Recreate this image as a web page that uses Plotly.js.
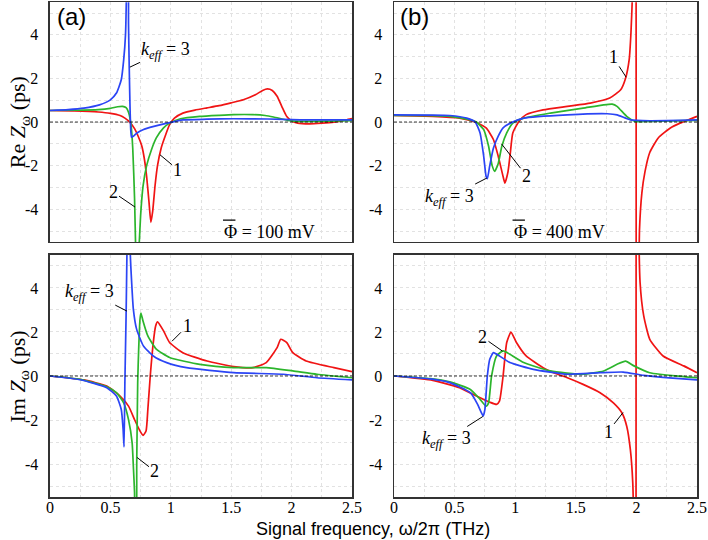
<!DOCTYPE html>
<html>
<head>
<meta charset="utf-8">
<script src="https://cdn.plot.ly/plotly-3.0.1.min.js"></script>
<style>
  html, body { margin: 0; padding: 0; background: #fff; }
  #chart { width: 708px; height: 540px; }
</style>
</head>
<body>
<div id="chart"></div>
<script>
// colours of the three k_eff curves
const RED = '#f01414'
const GREEN = '#2cb52c'
const BLUE = '#2b45f5'

// tick labels
const xTickVals = [0, 0.25, 0.5, 0.75, 1, 1.25, 1.5, 1.75, 2, 2.25, 2.5]
const xTickText = ['0', '', '0.5', '', '1', '', '1.5', '', '2', '', '2.5']
const yTickVals = [-5, -4, -3, -2, -1, 0, 1, 2, 3, 4, 5]
const yTickText = ['', '-4', '', '-2', '', '0', '', '2', '', '4', '']

// (a) Re Z, 100 mV
const reA1x = [0, 0.2, 0.4, 0.5, 0.58, 0.62, 0.66, 0.70, 0.73, 0.76, 0.78, 0.80, 0.82, 0.835, 0.85, 0.87, 0.89, 0.92, 0.95, 0.99, 1.03, 1.1, 1.2, 1.3, 1.4, 1.5, 1.6, 1.7, 1.76, 1.8, 1.84, 1.88, 1.92, 1.96, 2.0, 2.05, 2.15, 2.25, 2.35, 2.45, 2.5]
const reA1y = [0.53, 0.51, 0.46, 0.40, 0.30, 0.18, 0.0, -0.30, -0.65, -1.10, -1.65, -2.5, -3.7, -4.6, -4.1, -2.9, -2.0, -1.2, -0.7, -0.12, 0.18, 0.41, 0.55, 0.65, 0.75, 0.88, 1.02, 1.25, 1.45, 1.52, 1.45, 1.18, 0.7, 0.25, 0.05, -0.05, -0.08, -0.05, 0.0, 0.1, 0.16]
const reA2x = [0, 0.2, 0.4, 0.5, 0.56, 0.6, 0.63, 0.65, 0.67, 0.685, 0.70, 0.71, 0.72, 0.735, 0.75, 0.77, 0.80, 0.84, 0.88, 0.94, 0.99, 1.08, 1.24, 1.4, 1.52, 1.68, 1.78, 1.85, 1.92, 1.97, 2.07, 2.3, 2.5]
const reA2y = [0.53, 0.54, 0.57, 0.63, 0.70, 0.72, 0.66, 0.45, -0.1, -1.2, -3.5, -6.0, -7.5, -6.0, -4.3, -2.95, -2.0, -1.27, -0.73, -0.27, -0.05, 0.15, 0.26, 0.31, 0.34, 0.34, 0.3, 0.23, 0.14, 0.08, 0.03, 0.04, 0.06]
const reA3x = [0, 0.15, 0.28, 0.41, 0.5, 0.55, 0.59, 0.61, 0.625, 0.632, 0.637, 0.644, 0.65, 0.656, 0.662, 0.668, 0.675, 0.69, 0.72, 0.77, 0.86, 0.97, 1.1, 1.3, 1.52, 1.8, 2.07, 2.3, 2.5]
const reA3y = [0.53, 0.57, 0.64, 0.79, 1.02, 1.33, 1.94, 2.85, 4.0, 5.6, 8, 8, 4.5, 2.5, 0.8, -0.3, -0.7, -0.65, -0.5, -0.35, -0.2, -0.05, 0.1, 0.13, 0.15, 0.14, 0.1, 0.1, 0.1]

// (b) Re Z, 400 mV
const reB1x = [0, 0.32, 0.54, 0.67, 0.76, 0.82, 0.86, 0.90, 0.915, 0.94, 0.96, 0.98, 1.03, 1.09, 1.23, 1.43, 1.62, 1.78, 1.87, 1.91, 1.94, 1.955, 1.968, 1.98, 1.995, 2.0, 2.012, 2.025, 2.045, 2.07, 2.11, 2.18, 2.28, 2.36, 2.43, 2.5]
const reB1y = [0.3, 0.26, 0.18, 0, -0.27, -0.8, -1.57, -2.5, -2.8, -2.3, -1.4, -0.5, 0.03, 0.34, 0.56, 0.72, 0.87, 1.1, 1.48, 2.0, 2.85, 4.1, 6, 12, 30, -30, -10, -5.0, -3.25, -2.3, -1.4, -0.73, -0.27, -0.05, 0.1, 0.26]
const reB2x = [0, 0.3, 0.46, 0.63, 0.68, 0.74, 0.78, 0.81, 0.83, 0.86, 0.89, 0.93, 0.98, 1.07, 1.29, 1.56, 1.73, 1.80, 1.84, 1.92, 1.99, 2.11, 2.3, 2.5]
const reB2y = [0.3, 0.29, 0.26, 0.1, 0, -0.35, -1.1, -2.0, -2.26, -1.9, -1.1, -0.5, -0.05, 0.18, 0.41, 0.64, 0.79, 0.82, 0.72, 0.26, 0.03, 0.03, 0.05, 0.08]
const reB3x = [0, 0.3, 0.46, 0.6, 0.67, 0.71, 0.74, 0.76, 0.77, 0.79, 0.82, 0.86, 0.90, 0.96, 1.07, 1.43, 1.76, 1.84, 1.95, 2.11, 2.5]
const reB3y = [0.33, 0.32, 0.3, 0.18, 0, -0.5, -1.57, -2.5, -2.6, -2.0, -1.2, -0.65, -0.27, -0.05, 0.18, 0.33, 0.38, 0.33, 0.1, 0.06, 0.1]

// (a) Im Z, 100 mV
const imA1x = [0, 0.28, 0.47, 0.58, 0.65, 0.70, 0.745, 0.77, 0.795, 0.81, 0.83, 0.855, 0.875, 0.89, 0.94, 0.99, 1.1, 1.3, 1.52, 1.68, 1.79, 1.88, 1.91, 1.96, 2.01, 2.12, 2.35, 2.5]
const imA1y = [0, -0.18, -0.46, -0.91, -1.37, -1.98, -2.5, -2.7, -2.5, -1.52, 0, 1.52, 2.28, 2.46, 2.05, 1.52, 1.06, 0.68, 0.43, 0.38, 0.61, 1.29, 1.67, 1.52, 1.06, 0.68, 0.38, 0.2]
const imA2x = [0, 0.25, 0.47, 0.55, 0.61, 0.65, 0.68, 0.69, 0.70, 0.705, 0.712, 0.718, 0.726, 0.734, 0.745, 0.753, 0.77, 0.81, 0.88, 0.99, 1.24, 1.52, 1.79, 2.01, 2.21, 2.5]
const imA2y = [0, -0.15, -0.49, -0.76, -1.22, -1.98, -3.04, -4.1, -5.3, -7, -7, -4, -0.3, 1.2, 2.58, 2.86, 2.5, 1.82, 1.22, 0.84, 0.53, 0.38, 0.38, 0.23, 0.08, -0.08]
const imA3x = [0, 0.25, 0.47, 0.55, 0.59, 0.605, 0.613, 0.62, 0.63, 0.637, 0.645, 0.655, 0.665, 0.676, 0.69, 0.717, 0.773, 0.855, 0.966, 1.13, 1.52, 1.93, 2.21, 2.5]
const imA3y = [0, -0.17, -0.53, -0.91, -1.52, -2.4, -3.22, -0.3, 2.74, 5.6, 9, 9, 5.5, 4.26, 3.04, 2.13, 1.37, 0.91, 0.61, 0.38, 0.15, 0.08, -0.08, -0.18]

// (b) Im Z, 400 mV
const imB1x = [0, 0.32, 0.54, 0.68, 0.79, 0.846, 0.87, 0.90, 0.93, 0.965, 1.01, 1.09, 1.23, 1.34, 1.43, 1.56, 1.70, 1.81, 1.88, 1.92, 1.95, 1.97, 1.98, 1.99, 1.995, 2.0, 2.012, 2.03, 2.06, 2.11, 2.22, 2.39, 2.5]
const imB1y = [0, -0.2, -0.53, -0.91, -1.19, -1.29, -1.14, 0, 1.52, 2.0, 1.52, 0.91, 0.38, 0.1, -0.08, -0.38, -0.76, -1.22, -1.67, -2.28, -3.35, -4.87, -8, -20, -30, 30, 10, 4.26, 2.74, 1.67, 0.91, 0.46, 0.15]
const imB2x = [0, 0.3, 0.46, 0.63, 0.71, 0.76, 0.78, 0.805, 0.846, 0.90, 0.956, 1.07, 1.29, 1.56, 1.73, 1.84, 1.91, 1.98, 2.11, 2.39, 2.5]
const imB2y = [0, -0.12, -0.27, -0.61, -1.06, -1.37, -1.22, 0, 0.91, 1.14, 0.99, 0.61, 0.23, 0.08, 0.23, 0.53, 0.68, 0.46, 0.15, -0.03, -0.08]
const imB3x = [0, 0.3, 0.46, 0.63, 0.69, 0.736, 0.75, 0.77, 0.79, 0.82, 0.87, 0.956, 1.15, 1.43, 1.7, 1.89, 2.06, 2.3, 2.5]
const imB3y = [0, -0.13, -0.3, -0.76, -1.29, -1.82, -1.52, 0, 0.76, 1.06, 0.91, 0.61, 0.3, 0.08, 0.15, 0.18, 0.03, -0.1, -0.18]

function curve(x, y, color, n) {
  return {
    x: x, y: y,
    xaxis: 'x' + (n > 1 ? n : ''), yaxis: 'y' + (n > 1 ? n : ''),
    mode: 'lines', type: 'scatter', hoverinfo: 'none',
    line: { color: color, width: 1.7, shape: 'spline', smoothing: 0.5 }
  }
}

const data = [
  curve(reA1x, reA1y, RED, 1), curve(reA2x, reA2y, GREEN, 1), curve(reA3x, reA3y, BLUE, 1),
  curve(reB1x, reB1y, RED, 2), curve(reB2x, reB2y, GREEN, 2), curve(reB3x, reB3y, BLUE, 2),
  curve(imA1x, imA1y, RED, 3), curve(imA2x, imA2y, GREEN, 3), curve(imA3x, imA3y, BLUE, 3),
  curve(imB1x, imB1y, RED, 4), curve(imB2x, imB2y, GREEN, 4), curve(imB3x, imB3y, BLUE, 4)
]

const serif = 'Liberation Serif'
const sans = 'Liberation Sans'

function xax(domain, anchor, labels) {
  return {
    domain: domain, anchor: anchor, range: [0, 2.5],
    tickmode: 'array', tickvals: xTickVals, ticktext: xTickText,
    showticklabels: labels, ticks: '', ticklen: 0, ticklabelstandoff: -5,
    tickfont: { family: serif, size: 16, color: '#000' },
    showgrid: true, gridcolor: '#e2e2e2', griddash: 'dot', gridwidth: 1,
    zeroline: false, showline: true, mirror: true, linecolor: '#333', linewidth: 1.5
  }
}
function yax(domain, anchor) {
  return {
    domain: domain, anchor: anchor, range: [-5.5, 5.5],
    tickmode: 'array', tickvals: yTickVals, ticktext: yTickText,
    ticks: '', ticklen: 0, ticklabelstandoff: 7,
    tickfont: { family: serif, size: 16, color: '#000' },
    showgrid: true, gridcolor: '#e2e2e2', griddash: 'dot', gridwidth: 1,
    zeroline: false, showline: true, mirror: true, linecolor: '#333', linewidth: 1.5
  }
}

const colA = [0.0706, 0.4972]
const colB = [0.5565, 0.9845]
const rowTop = [0.552, 0.996]
const rowBot = [0.0796, 0.5278]

const keff = '<i>k</i><sub><i>eff</i></sub> = 3'
const lblFont = { family: serif, size: 18, color: '#000' }

function label(text, n, x, y, ax, ay) {
  const s = n > 1 ? n : ''
  return {
    text: text, xref: 'x' + s, yref: 'y' + s, x: x, y: y,
    ax: ax, ay: ay, showarrow: true, arrowhead: 0, arrowwidth: 1,
    arrowcolor: '#000', standoff: 0, font: lblFont
  }
}
function note(text, n, x, y, font, xanchor) {
  const s = n > 1 ? n : ''
  return {
    text: text, xref: 'x' + s, yref: 'y' + s, x: x, y: y,
    xanchor: xanchor || 'center', yanchor: 'middle', showarrow: false, font: font
  }
}

const phiFont = { family: serif, size: 18, color: '#000' }
const panelFont = { family: sans, size: 24, color: '#000' }
const yTitleFont = { family: serif, size: 22, color: '#000' }

const annotations = [
  label(keff, 1, 0.662, 2.52, 36, -17),
  label('1', 1, 0.91, -1.5, 18, 15),
  label('2', 1, 0.704, -3.9, -22, -15),
  note('Φ = 100 mV', 1, 1.424, -5.03, phiFont, 'left'),
  note('(a)', 1, 0.18, 4.82, panelFont),

  label('1', 2, 1.915, 2.06, -13, -20),
  label('2', 2, 0.887, -1.0, 25, 32),
  label(keff, 2, 0.766, -2.57, -37, 19),
  note('Φ = 400 mV', 2, 0.970, -5.03, phiFont, 'left'),
  note('(b)', 2, 0.165, 4.82, panelFont),

  label(keff, 3, 0.637, 2.95, -37, -19),
  label('1', 3, 1.01, 1.58, 15, -15),
  label('2', 3, 0.72, -3.7, 18, 14),

  label('2', 4, 0.895, 1.13, -20, -14),
  label(keff, 4, 0.733, -1.84, -36, 23),
  label('1', 4, 1.89, -1.66, -15, 19),

  { text: 'Re <i>Z</i><sub>ω</sub> (ps)', xref: 'paper', yref: 'paper', x: 0.027, y: 0.774,
    xanchor: 'center', yanchor: 'middle',
    textangle: -90, showarrow: false, font: yTitleFont },
  { text: 'Im <i>Z</i><sub>ω</sub> (ps)', xref: 'paper', yref: 'paper', x: 0.027, y: 0.303,
    xanchor: 'center', yanchor: 'middle',
    textangle: -90, showarrow: false, font: yTitleFont },
  { text: 'Signal frequency, ω/2π (THz)', xref: 'paper', yref: 'paper', x: 0.527, y: 0.02,
    xanchor: 'center', yanchor: 'middle',
    showarrow: false, font: { family: sans, size: 18, color: '#000' } }
]

// dashed zero line in every panel, plus the bar over Φ
const shapes = ['', '2', '3', '4'].map(s => ({
  type: 'line', xref: 'x' + s + ' domain', yref: 'y' + s,
  x0: 0, x1: 1, y0: 0, y1: 0, layer: 'above',
  line: { color: '#000', width: 0.8, dash: '3px,2px' }
}))
shapes.push({ type: 'line', xref: 'x', yref: 'y', x0: 1.432, x1: 1.535, y0: -4.5, y1: -4.5,
  line: { color: '#000', width: 1.2 } })
shapes.push({ type: 'line', xref: 'x2', yref: 'y2', x0: 0.978, x1: 1.08, y0: -4.5, y1: -4.5,
  line: { color: '#000', width: 1.2 } })

const layout = {
  width: 708, height: 540,
  margin: { l: 0, r: 0, t: 0, b: 0 },
  font: { family: serif, color: '#000' },
  paper_bgcolor: '#fff', plot_bgcolor: '#fff',
  showlegend: false,
  xaxis: xax(colA, 'y', false), yaxis: yax(rowTop, 'x'),
  xaxis2: xax(colB, 'y2', false), yaxis2: yax(rowTop, 'x2'),
  xaxis3: xax(colA, 'y3', true), yaxis3: yax(rowBot, 'x3'),
  xaxis4: xax(colB, 'y4', true), yaxis4: yax(rowBot, 'x4'),
  annotations: annotations,
  shapes: shapes
}

Plotly.newPlot('chart', data, layout, { displayModeBar: false, staticPlot: true })
</script>
</body>
</html>
